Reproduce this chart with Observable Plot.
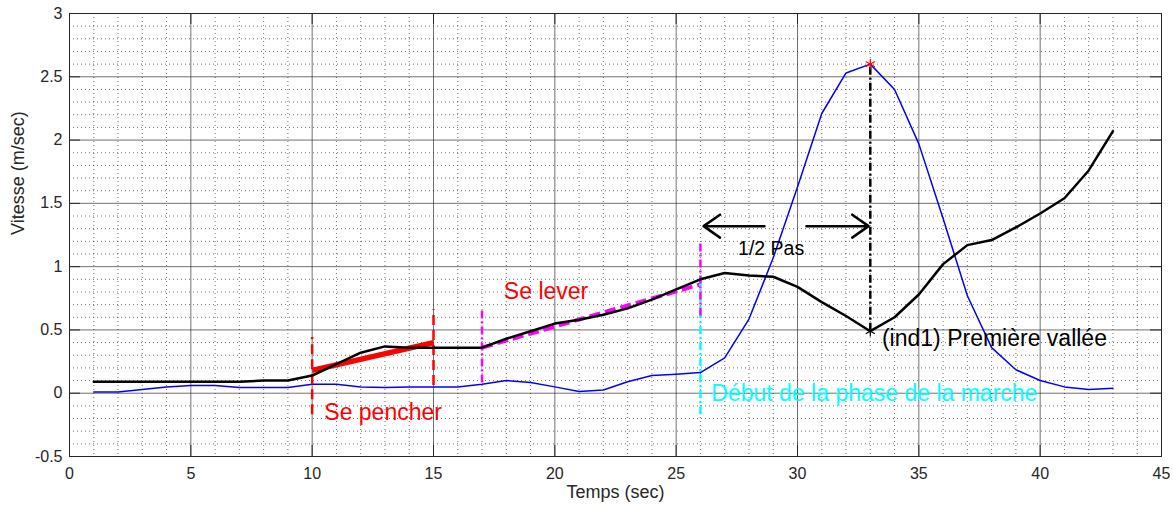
<!DOCTYPE html>
<html><head><meta charset="utf-8">
<script src="https://cdn.jsdelivr.net/npm/d3@7"></script>
<script src="https://cdn.jsdelivr.net/npm/@observablehq/plot@0.6"></script>
<style>body{margin:0;background:#fff} svg{display:block}</style>
</head><body><div id="chart"></div>
<script>
// ---- data ----
const temps = [1,2,3,4,5,6,7,8,9,10,11,12,13,14,15,16,17,18,19,20,21,22,23,24,25,26,27,28,29,30,31,32,33,34,35,36,37,38,39,40,41,42,43];
const vitesseNoire = [0.09,0.09,0.09,0.09,0.09,0.09,0.09,0.10,0.10,0.14,0.23,0.32,0.37,0.36,0.36,0.36,0.36,0.43,0.49,0.55,0.58,0.62,0.67,0.74,0.82,0.90,0.95,0.93,0.92,0.84,0.72,0.61,0.49,0.60,0.78,1.02,1.17,1.21,1.31,1.42,1.54,1.76,2.07];
const vitesseBleue = [0.01,0.01,0.03,0.05,0.06,0.06,0.045,0.045,0.045,0.07,0.07,0.05,0.045,0.05,0.05,0.05,0.07,0.10,0.085,0.05,0.013,0.026,0.09,0.14,0.15,0.163,0.28,0.586,1.07,1.63,2.21,2.53,2.60,2.40,1.97,1.38,0.77,0.36,0.185,0.10,0.05,0.03,0.04];
const xTicks = [0,5,10,15,20,25,30,35,40,45];
const yTicks = [-0.5,0,0.5,1,1.5,2,2.5,3];
const xTickLabels = ["0","5","10","15","20","25","30","35","40","45"];
const yTickLabels = ["-0.5","0","0.5","1","1.5","2","2.5","3"];

const seuilsPencher = [{x:10, y1:-0.17, y2:0.44}, {x:15, y1:0.06, y2:0.66}];
const seuilsLever = [{x:17, y1:0.08, y2:0.66}, {x:26, y1:0.61, y2:1.2}];
const debutMarche = [{x:26, y1:-0.17, y2:0.9}];
const tendancePencher = [{x1:10, y1:0.18, x2:15, y2:0.40}];
const tendanceLever = [{x1:17, y1:0.36, x2:26, y2:0.86}];
const piqueVallee = [{x:33, y1:0.49, y2:2.6}];
const pic = [{x:33, y:2.6}];
const vallee = [{x:33, y:0.49}];
const fleches = [{x1:28.64, x2:26.13, y:1.32}, {x1:30.37, x2:32.93, y:1.32}];
const texteRouge = [{x:10.5, y:-0.15, t:"Se pencher"}, {x:17.9, y:0.80, t:"Se lever"}];
const texteNoir = [{x:33.48, y:0.43, t:"(ind1) Première vallée"}];
const textePas = [{x:27.55, y:1.14, t:"1/2 Pas"}];
const texteCyan = [{x:26.45, y:0.0, t:"Début de la phase de la marche"}];

// ---- layout ----
const W = 1173, H = 508, mL = 69, mR = 12, mT = 13, mB = 52;
const innerW = W - mL - mR, innerH = H - mT - mB;
const font = "'Liberation Sans', Arial, Helvetica, sans-serif";
const rows = temps.map((t, i) => ({t, noir: vitesseNoire[i], bleu: vitesseBleue[i]}));
const minorX = d3.range(0, 46, 1).filter(v => v % 5 !== 0);
const minorY = d3.range(-5, 31, 1).filter(v => v % 5 !== 0).map(v => v / 10);
const dashDot = "8,3,2,3";
const fmtX = d => xTickLabels[xTicks.indexOf(d)];
const fmtY = d => yTickLabels[yTicks.indexOf(d)];

const chart = Plot.plot({
  width: W, height: H,
  marginLeft: mL, marginRight: mR, marginTop: mT, marginBottom: mB,
  style: {fontFamily: font, fontSize: "16px", color: "#262626", background: "#fff"},
  x: {domain: [0, 45], label: null, axis: null},
  y: {domain: [-0.5, 3], label: null, axis: null},
  marks: [
    Plot.ruleX(minorX, {x: d => d, stroke: "#333", strokeOpacity: 0.7, strokeDasharray: "1,3"}),
    Plot.ruleY(minorY, {y: d => d, stroke: "#333", strokeOpacity: 0.7, strokeDasharray: "1,3"}),
    Plot.ruleX(xTicks, {x: d => d, stroke: "#262626", strokeOpacity: 0.65}),
    Plot.ruleY(yTicks, {y: d => d, stroke: "#262626", strokeOpacity: 0.65}),
    Plot.tickX(xTicks, {x: d => d, insetTop: innerH - 11, stroke: "#262626"}),
    Plot.tickX(xTicks, {x: d => d, insetBottom: innerH - 11, stroke: "#262626"}),
    Plot.tickY(yTicks, {y: d => d, insetRight: innerW - 11, stroke: "#262626"}),
    Plot.tickY(yTicks, {y: d => d, insetLeft: innerW - 11, stroke: "#262626"}),
    Plot.frame({stroke: "#262626"}),
    Plot.axisX(xTicks, {tickSize: 0, tickPadding: 11, tickFormat: fmtX, fontSize: 16}),
    Plot.axisY(yTicks, {tickSize: 0, tickPadding: 7, tickFormat: fmtY, fontSize: 16}),
    Plot.line(rows, {x: "t", y: "bleu", stroke: "#0000ff", strokeWidth: 1.5}),
    Plot.link(tendancePencher, {x1: "x1", y1: "y1", x2: "x2", y2: "y2", stroke: "#ff0000", strokeWidth: 5.5}),
    Plot.link(tendanceLever, {x1: "x1", y1: "y1", x2: "x2", y2: "y2", stroke: "#ff00ff", strokeWidth: 4, strokeDasharray: "11,5"}),
    Plot.ruleX(seuilsPencher, {x: "x", y1: "y1", y2: "y2", stroke: "#ff0000", strokeWidth: 2.5, strokeDasharray: "10,5"}),
    Plot.ruleX(debutMarche, {x: "x", y1: "y1", y2: "y2", stroke: "#00ffff", strokeWidth: 2.5, strokeDasharray: dashDot}),
    Plot.ruleX(seuilsLever, {x: "x", y1: "y1", y2: "y2", stroke: "#ff00ff", strokeWidth: 2.5, strokeDasharray: dashDot}),
    Plot.line(rows, {x: "t", y: "noir", stroke: "#000", strokeWidth: 2.5}),
    Plot.ruleX(piqueVallee, {x: "x", y1: "y1", y2: "y2", stroke: "#000", strokeWidth: 2.5, strokeDasharray: dashDot}),
    Plot.arrow(fleches, {x1: "x1", x2: "x2", y1: "y", y2: "y", stroke: "#000", strokeWidth: 2.5, headLength: 12, headAngle: 70}),
    Plot.dot(pic, {x: "x", y: "y", symbol: "asterisk", r: 5, stroke: "#ff0000", strokeWidth: 1.2}),
    Plot.dot(vallee, {x: "x", y: "y", symbol: "asterisk", r: 5, stroke: "#000", strokeWidth: 1.2}),
    Plot.text(texteRouge, {x: "x", y: "y", text: "t", textAnchor: "start", fill: "#ff0000", fontSize: 23}),
    Plot.text(texteNoir, {x: "x", y: "y", text: "t", textAnchor: "start", fill: "#000", fontSize: 23}),
    Plot.text(textePas, {x: "x", y: "y", text: "t", textAnchor: "start", fill: "#000", fontSize: 19.5}),
    Plot.text(texteCyan, {x: "x", y: "y", text: "t", textAnchor: "start", fill: "#00ffff", fontSize: 23}),
    Plot.text(["Temps (sec)"], {frameAnchor: "bottom", dy: 41, fontSize: 18, fill: "#262626"}),
    Plot.text(["Vitesse (m/sec)"], {frameAnchor: "left", dx: -51, rotate: -90, fontSize: 18, fill: "#262626"})
  ]
});
document.getElementById("chart").appendChild(chart);
</script>
</body></html>
